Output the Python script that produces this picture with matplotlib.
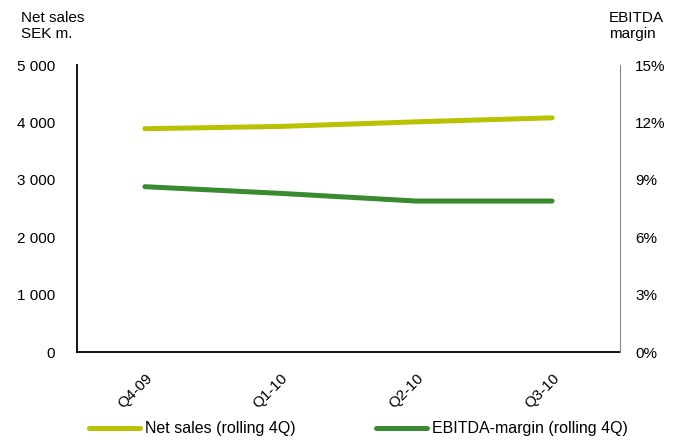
import matplotlib
matplotlib.use('Agg')
import matplotlib.pyplot as plt
from matplotlib.ticker import FuncFormatter

plt.rcParams['font.family'] = ['Liberation Sans', 'DejaVu Sans']

quarters = ['Q4-09', 'Q1-10', 'Q2-10', 'Q3-10']
net_sales = [3890, 3930, 4010, 4080]
ebitda_margin = [8.64, 8.29, 7.89, 7.89]

yellow = '#b9c200'
green = '#3a8a2f'
fs = 11

fig = plt.figure(figsize=(6.75, 4.44), dpi=100)
ax = fig.add_axes([77/675, 1-352/444, 543/675, 287/444])
ax2 = ax.twinx()

x = range(len(quarters))
l1, = ax.plot(x, net_sales, color=yellow, linewidth=3.6, solid_capstyle='round', label='Net sales (rolling 4Q)')
l2, = ax2.plot(x, ebitda_margin, color=green, linewidth=3.6, solid_capstyle='round', label='EBITDA-margin (rolling 4Q)')

ax.set_xlim(-0.5, 3.5)
ax.set_ylim(0, 5000)
ax2.set_ylim(0, 15)
ax.set_yticks([0, 1000, 2000, 3000, 4000, 5000])
ax2.set_yticks([0, 3, 6, 9, 12, 15])
ax.yaxis.set_major_formatter(FuncFormatter(lambda v, p: f'{int(v):,}'.replace(',', ' ')))
ax2.yaxis.set_major_formatter(FuncFormatter(lambda v, p: f'{int(v)}%'))
ax.set_xticks(list(x))
ax.set_xticklabels(quarters, rotation=45, ha='right', rotation_mode='anchor')

for a in (ax, ax2):
    a.spines['top'].set_visible(False)
    a.tick_params(length=0, labelsize=fs)
ax.spines['left'].set_color('black')
ax.spines['bottom'].set_color('black')
ax.spines['left'].set_linewidth(1.3)
ax.spines['bottom'].set_linewidth(1.3)
ax2.spines['left'].set_visible(False)
ax2.spines['bottom'].set_visible(False)
ax2.spines['right'].set_color('#888888')
ax.spines['right'].set_visible(False)
ax.tick_params(axis='y', pad=16)
ax2.tick_params(axis='y', pad=11)
ax.tick_params(axis='x', pad=14)

fig.text(21/675, 1-11/444, 'Net sales\nSEK m.', ha='left', va='top', fontsize=fs, linespacing=1.15)
fig.text(609/675, 1-11/444, 'EBITDA\nmargin', ha='left', va='top', fontsize=fs, linespacing=1.15)

fig.legend(handles=[l1, l2], loc='lower center', bbox_to_anchor=(0.531, -0.015), ncol=2,
           frameon=False, fontsize=11.5, handlelength=3.2, handletextpad=0.3, columnspacing=5.0)

fig.savefig('out.png', dpi=100)
